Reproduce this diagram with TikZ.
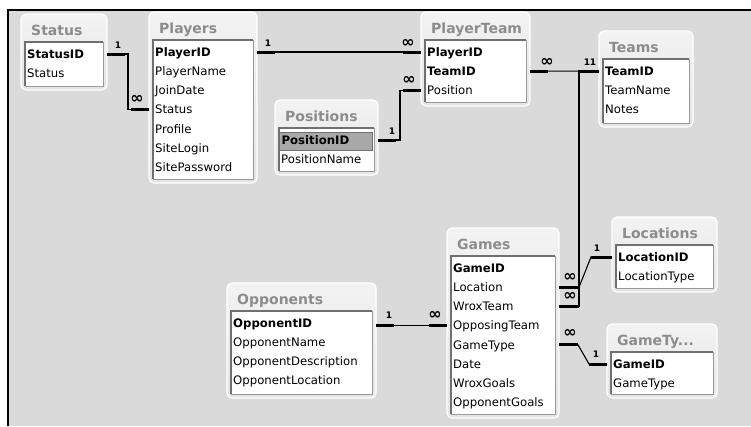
\documentclass[tikz,border=0pt]{standalone}
\usepackage{fontspec}
\setmainfont{DejaVu Sans}
\usetikzlibrary{calc}
\definecolor{canvasgray}{HTML}{DADADA}
\definecolor{tabletop}{HTML}{F3F3F3}
\definecolor{tablebot}{HTML}{E4E4E4}
\definecolor{titlegray}{HTML}{8C8C8C}
\definecolor{listgray}{HTML}{9A9A9A}
\definecolor{listedgegray}{HTML}{707070}
\definecolor{hlgray}{HTML}{A8A8A8}
\newcommand{\hlrow}[1]{\hspace*{-2pt}{\setlength{\fboxsep}{2pt}\fcolorbox{listedgegray}{hlgray}{\makebox[88pt][l]{\strut #1}}}}
\tikzset{
  tablebox/.style={
    anchor=north west,
    rounded corners=5pt,
    top color=tabletop,
    bottom color=tablebot,
    draw=white,
    line width=1.2pt,
    inner sep=0pt,
    outer sep=0pt
  },
  tablelist/.style={
    anchor=north west,
    fill=white,
    draw=listgray,
    line width=0.6pt,
    inner sep=0pt,
    outer sep=0pt
  },
  listedge/.style={
    draw=listedgegray,
    line width=1.6pt
  },
  tabletitle/.style={
    anchor=west,
    inner sep=0pt,
    text height=10pt,
    text depth=0pt,
    text=titlegray,
    font=\fontsize{14}{16}\selectfont\bfseries
  },
  field/.style={
    anchor=west,
    inner sep=0pt,
    text height=8.5pt,
    text depth=0pt,
    font=\fontsize{11.7}{14}\selectfont
  },
  relline/.style={
    draw=black,
    line width=1.1pt
  },
  keystub/.style={
    draw=black,
    line width=3pt
  },
  cardone/.style={
    inner sep=0pt,
    font=\fontsize{9}{9}\selectfont\bfseries
  },
  cardmany/.style={
    inner sep=0pt,
    font=\fontsize{16}{16}\selectfont\bfseries
  }
}
% one table: name, x, y, width, height, title, fields
\newcommand{\erdtable}[7]{%
  \node[tablebox, minimum width=#4pt, minimum height=#5pt] (#1) at (#2,#3) {};
  \node[tablelist, minimum width=#4pt-8pt, minimum height=#5pt-32pt] (#1-list) at ([xshift=4pt,yshift=-28pt]#1.north west) {};
  \draw[listedge] (#1-list.south west) -- (#1-list.north west) -- (#1-list.north east);
  \node[tabletitle] (#1-title) at ([xshift=10pt,yshift=-16pt]#1.north west) {#6};
  \foreach \f [count=\i] in {#7}
    \node[field] (#1-\i) at ([xshift=6pt,yshift={-(40+(\i-1)*19.2)*1pt}]#1.north west) {\f};
}
\begin{document}
\begin{tikzpicture}[x=1pt,y=-1pt]
  \useasboundingbox (0,0) rectangle (751,426);
  \fill[canvasgray] (8,10) rectangle (751,426);
  \draw[line width=1.5pt] (8,426) -- (8,10) -- (751,10);

  % tables
  \erdtable{status}{21}{14}{86}{76}{Status}{{\textbf{StatusID}},Status}
  \erdtable{players}{149}{12}{108}{171}{Players}{{\textbf{PlayerID}},PlayerName,JoinDate,Status,Profile,SiteLogin,SitePassword}
  \erdtable{playerteam}{421}{12}{109}{94}{PlayerTeam}{{\textbf{PlayerID}},{\textbf{TeamID}},Position}
  \erdtable{positions}{275}{100}{103}{75}{Positions}{{\hlrow{\textbf{PositionID}}},PositionName}
  \erdtable{teams}{599}{31}{94}{96}{Teams}{{\textbf{TeamID}},TeamName,Notes}
  \erdtable{locations}{612}{217}{105}{75}{Locations}{{\textbf{LocationID}},LocationType}
  \erdtable{gametypes}{607}{324}{110}{74}{GameTy...}{{\textbf{GameID}},GameType}
  \erdtable{games}{447}{228}{112}{190}{Games}{{\textbf{GameID}},Location,WroxTeam,OpposingTeam,GameType,Date,WroxGoals,OpponentGoals}
  \erdtable{opponents}{227}{283}{149}{115}{Opponents}{{\textbf{OpponentID}},OpponentName,OpponentDescription,OpponentLocation}

  % Status -> Players
  \draw[relline] (status.east |- status-1) -- ++(21,0) |- (players.west |- players-4);
  \draw[keystub] (status.east |- status-1) -- ++(18,0);
  \draw[keystub] (players.west |- players-4) -- ++(-18,0);
  \node[cardone] (status-one) at ($(status.east |- status-1)+(11,-9)$) {1};
  \node[cardmany] (players-many) at ($(players.west |- players-4)+(-12,-10)$) {∞};

  % Players -> PlayerTeam
  \draw[relline] (players.east |- players-1) -- (playerteam.west |- playerteam-1);
  \draw[keystub] (players.east |- players-1) -- ++(18,0);
  \draw[keystub] (playerteam.west |- playerteam-1) -- ++(-18,0);
  \node[cardone] (players-one) at ($(players.east |- players-1)+(11,-9)$) {1};
  \node[cardmany] (playerteam-many1) at ($(playerteam.west |- playerteam-1)+(-13,-9)$) {∞};

  % Positions -> PlayerTeam
  \draw[relline] (positions.east |- positions-1) -- ++(22,0) |- (playerteam.west |- playerteam-3);
  \draw[keystub] (positions.east |- positions-1) -- ++(18,0);
  \draw[keystub] (playerteam.west |- playerteam-3) -- ++(-18,0);
  \node[cardone] (positions-one) at ($(positions.east |- positions-1)+(14,-9)$) {1};
  \node[cardmany] (playerteam-many3) at ($(playerteam.west |- playerteam-3)+(-12,-10)$) {∞};

  % PlayerTeam -> Teams
  \draw[relline] (playerteam.east |- playerteam-2) -- (teams.west |- teams-1);
  \draw[keystub] (playerteam.east |- playerteam-2) -- ++(18,0);
  \draw[keystub] (teams.west |- teams-1) -- ++(-20,0);
  \node[cardmany] (playerteam-many2) at ($(playerteam.east |- playerteam-2)+(17,-9)$) {∞};
  \node[cardone] (teams-one1) at ($(teams.west |- teams-1)+(-12,-9)$) {1};

  % Games -> Teams
  \draw[relline] (games.east |- games-3) -- ++(20,0) |- (teams.west |- teams-1);
  \draw[keystub] (games.east |- games-3) -- ++(20,0);
  \node[cardmany] (games-many3) at ($(games.east |- games-3)+(11,-10)$) {∞};
  \node[cardone] (teams-one2) at ($(teams.west |- teams-1)+(-6,-9)$) {1};

  % Games -> Locations
  \draw[relline] (games.east |- games-2) -- ++(20,0) -- ($(locations.west |- locations-1)+(-21,0)$) -- (locations.west |- locations-1);
  \draw[keystub] (games.east |- games-2) -- ++(20,0);
  \draw[keystub] (locations.west |- locations-1) -- ++(-21,0);
  \node[cardmany] (games-many2) at ($(games.east |- games-2)+(11,-10)$) {∞};
  \node[cardone] (locations-one) at ($(locations.west |- locations-1)+(-15,-9)$) {1};

  % Games -> GameTypes
  \draw[relline] (games.east |- games-5) -- ++(19,0) -- ($(gametypes.west |- gametypes-1)+(-18,0)$) -- (gametypes.west |- gametypes-1);
  \draw[keystub] (games.east |- games-5) -- ++(19,0);
  \draw[keystub] (gametypes.west |- gametypes-1) -- ++(-18,0);
  \node[cardmany] (games-many5) at ($(games.east |- games-5)+(11,-11)$) {∞};
  \node[cardone] (gametypes-one) at ($(gametypes.west |- gametypes-1)+(-11,-10)$) {1};

  % Opponents -> Games
  \draw[relline] (opponents.east |- games-4) -- (games.west |- games-4);
  \draw[keystub] (opponents.east |- games-4) -- ++(18,0);
  \draw[keystub] (games.west |- games-4) -- ++(-18,0);
  \node[cardone] (opponents-one) at ($(opponents.east |- games-4)+(13,-10)$) {1};
  \node[cardmany] (games-many4) at ($(games.west |- games-4)+(-12,-10)$) {∞};
\end{tikzpicture}
\end{document}
